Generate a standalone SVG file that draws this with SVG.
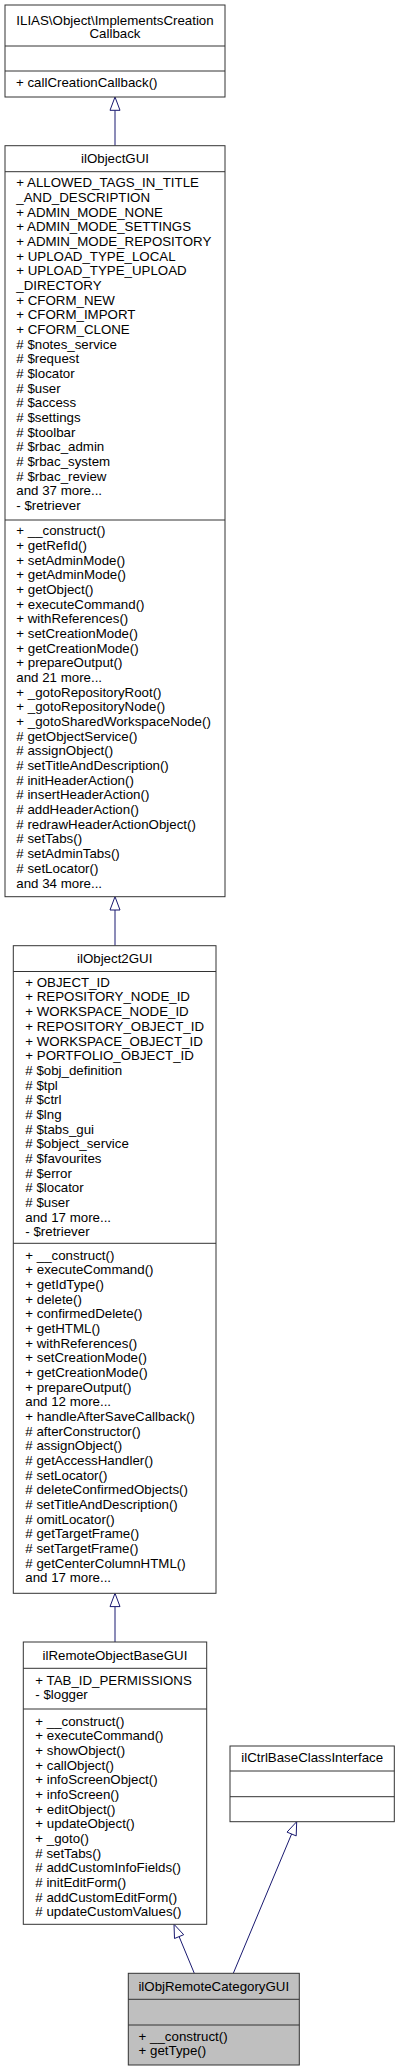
<svg xmlns="http://www.w3.org/2000/svg" width="400" height="2071" viewBox="0 0 400 2071">
<style>
text{font-family:"Liberation Sans",Arial,Helvetica,sans-serif;font-size:13.3px;fill:#000}
.c{text-anchor:middle}
.box{fill:#fff;stroke:#333;stroke-width:1}
.cur{fill:#bfbfbf;stroke:#333;stroke-width:1}
.div{stroke:#333;stroke-width:1}
.edge{stroke:#191970;stroke-width:1;fill:none}
.head{stroke:#191970;stroke-width:1;fill:#fff}
</style>
<rect width="400" height="2071" fill="#fff"/>
<g id="connectors">
<line class="edge" x1="115" y1="110.3" x2="115" y2="145.7"/>
<polygon class="head" points="115,97 110,110.3 120,110.3"/>
<line class="edge" x1="115" y1="910" x2="115" y2="945.7"/>
<polygon class="head" points="115,896.7 110,910 120,910"/>
<line class="edge" x1="115" y1="1606.6" x2="115" y2="1642"/>
<polygon class="head" points="115,1593.3 110,1606.6 120,1606.6"/>
<line class="edge" x1="179.1" y1="1936.6" x2="194.3" y2="1973.3"/>
<polygon class="head" points="174,1924.3 183.7,1934.7 174.5,1938.5"/>
<line class="edge" x1="291.6" y1="1834" x2="233.3" y2="1973.3"/>
<polygon class="head" points="296.7,1821.7 296.2,1835.9 287,1832.1"/>
</g>
<g id="ILIAS_Object_ImplementsCreationCallback">
<rect class="box" x="5" y="5" width="220" height="92"/>
<line class="div" x1="5" y1="46" x2="225" y2="46"/>
<line class="div" x1="5" y1="71" x2="225" y2="71"/>
<text class="c" x="115" y="24.5">ILIAS\Object\ImplementsCreation</text>
<text class="c" x="115" y="38.3">Callback</text>
<text x="16" y="87.3">+ callCreationCallback()</text>
</g>
<g id="ilObjectGUI">
<rect class="box" x="5" y="145.7" width="220" height="751"/>
<line class="div" x1="5" y1="171.7" x2="225" y2="171.7"/>
<line class="div" x1="5" y1="520" x2="225" y2="520"/>
<text class="c" x="115" y="163">ilObjectGUI</text>
<text x="16.3" y="187.2"><tspan x="16.3">+ ALLOWED_TAGS_IN_TITLE</tspan><tspan x="16.3" dy="14.68">_AND_DESCRIPTION</tspan><tspan x="16.3" dy="14.68">+ ADMIN_MODE_NONE</tspan><tspan x="16.3" dy="14.68">+ ADMIN_MODE_SETTINGS</tspan><tspan x="16.3" dy="14.68">+ ADMIN_MODE_REPOSITORY</tspan><tspan x="16.3" dy="14.68">+ UPLOAD_TYPE_LOCAL</tspan><tspan x="16.3" dy="14.68">+ UPLOAD_TYPE_UPLOAD</tspan><tspan x="16.3" dy="14.68">_DIRECTORY</tspan><tspan x="16.3" dy="14.68">+ CFORM_NEW</tspan><tspan x="16.3" dy="14.68">+ CFORM_IMPORT</tspan><tspan x="16.3" dy="14.68">+ CFORM_CLONE</tspan><tspan x="16.3" dy="14.68"># $notes_service</tspan><tspan x="16.3" dy="14.68"># $request</tspan><tspan x="16.3" dy="14.68"># $locator</tspan><tspan x="16.3" dy="14.68"># $user</tspan><tspan x="16.3" dy="14.68"># $access</tspan><tspan x="16.3" dy="14.68"># $settings</tspan><tspan x="16.3" dy="14.68"># $toolbar</tspan><tspan x="16.3" dy="14.68"># $rbac_admin</tspan><tspan x="16.3" dy="14.68"># $rbac_system</tspan><tspan x="16.3" dy="14.68"># $rbac_review</tspan><tspan x="16.3" dy="14.68">and 37 more...</tspan><tspan x="16.3" dy="14.68">- $retriever</tspan></text>
<text x="16.3" y="535.2"><tspan x="16.3">+ __construct()</tspan><tspan x="16.3" dy="14.68">+ getRefId()</tspan><tspan x="16.3" dy="14.68">+ setAdminMode()</tspan><tspan x="16.3" dy="14.68">+ getAdminMode()</tspan><tspan x="16.3" dy="14.68">+ getObject()</tspan><tspan x="16.3" dy="14.68">+ executeCommand()</tspan><tspan x="16.3" dy="14.68">+ withReferences()</tspan><tspan x="16.3" dy="14.68">+ setCreationMode()</tspan><tspan x="16.3" dy="14.68">+ getCreationMode()</tspan><tspan x="16.3" dy="14.68">+ prepareOutput()</tspan><tspan x="16.3" dy="14.68">and 21 more...</tspan><tspan x="16.3" dy="14.68">+ _gotoRepositoryRoot()</tspan><tspan x="16.3" dy="14.68">+ _gotoRepositoryNode()</tspan><tspan x="16.3" dy="14.68">+ _gotoSharedWorkspaceNode()</tspan><tspan x="16.3" dy="14.68"># getObjectService()</tspan><tspan x="16.3" dy="14.68"># assignObject()</tspan><tspan x="16.3" dy="14.68"># setTitleAndDescription()</tspan><tspan x="16.3" dy="14.68"># initHeaderAction()</tspan><tspan x="16.3" dy="14.68"># insertHeaderAction()</tspan><tspan x="16.3" dy="14.68"># addHeaderAction()</tspan><tspan x="16.3" dy="14.68"># redrawHeaderActionObject()</tspan><tspan x="16.3" dy="14.68"># setTabs()</tspan><tspan x="16.3" dy="14.68"># setAdminTabs()</tspan><tspan x="16.3" dy="14.68"># setLocator()</tspan><tspan x="16.3" dy="14.68">and 34 more...</tspan></text>
</g>
<g id="ilObject2GUI">
<rect class="box" x="13.3" y="945.7" width="202.7" height="647.6"/>
<line class="div" x1="13.3" y1="971.5" x2="216" y2="971.5"/>
<line class="div" x1="13.3" y1="1243.3" x2="216" y2="1243.3"/>
<text class="c" x="114.7" y="962.8">ilObject2GUI</text>
<text x="25.3" y="986.8"><tspan x="25.3">+ OBJECT_ID</tspan><tspan x="25.3" dy="14.68">+ REPOSITORY_NODE_ID</tspan><tspan x="25.3" dy="14.68">+ WORKSPACE_NODE_ID</tspan><tspan x="25.3" dy="14.68">+ REPOSITORY_OBJECT_ID</tspan><tspan x="25.3" dy="14.68">+ WORKSPACE_OBJECT_ID</tspan><tspan x="25.3" dy="14.68">+ PORTFOLIO_OBJECT_ID</tspan><tspan x="25.3" dy="14.68"># $obj_definition</tspan><tspan x="25.3" dy="14.68"># $tpl</tspan><tspan x="25.3" dy="14.68"># $ctrl</tspan><tspan x="25.3" dy="14.68"># $lng</tspan><tspan x="25.3" dy="14.68"># $tabs_gui</tspan><tspan x="25.3" dy="14.68"># $object_service</tspan><tspan x="25.3" dy="14.68"># $favourites</tspan><tspan x="25.3" dy="14.68"># $error</tspan><tspan x="25.3" dy="14.68"># $locator</tspan><tspan x="25.3" dy="14.68"># $user</tspan><tspan x="25.3" dy="14.68">and 17 more...</tspan><tspan x="25.3" dy="14.68">- $retriever</tspan></text>
<text x="25.3" y="1259.5"><tspan x="25.3">+ __construct()</tspan><tspan x="25.3" dy="14.68">+ executeCommand()</tspan><tspan x="25.3" dy="14.68">+ getIdType()</tspan><tspan x="25.3" dy="14.68">+ delete()</tspan><tspan x="25.3" dy="14.68">+ confirmedDelete()</tspan><tspan x="25.3" dy="14.68">+ getHTML()</tspan><tspan x="25.3" dy="14.68">+ withReferences()</tspan><tspan x="25.3" dy="14.68">+ setCreationMode()</tspan><tspan x="25.3" dy="14.68">+ getCreationMode()</tspan><tspan x="25.3" dy="14.68">+ prepareOutput()</tspan><tspan x="25.3" dy="14.68">and 12 more...</tspan><tspan x="25.3" dy="14.68">+ handleAfterSaveCallback()</tspan><tspan x="25.3" dy="14.68"># afterConstructor()</tspan><tspan x="25.3" dy="14.68"># assignObject()</tspan><tspan x="25.3" dy="14.68"># getAccessHandler()</tspan><tspan x="25.3" dy="14.68"># setLocator()</tspan><tspan x="25.3" dy="14.68"># deleteConfirmedObjects()</tspan><tspan x="25.3" dy="14.68"># setTitleAndDescription()</tspan><tspan x="25.3" dy="14.68"># omitLocator()</tspan><tspan x="25.3" dy="14.68"># getTargetFrame()</tspan><tspan x="25.3" dy="14.68"># setTargetFrame()</tspan><tspan x="25.3" dy="14.68"># getCenterColumnHTML()</tspan><tspan x="25.3" dy="14.68">and 17 more...</tspan></text>
</g>
<g id="ilRemoteObjectBaseGUI">
<rect class="box" x="23.3" y="1642" width="183.4" height="282.3"/>
<line class="div" x1="23.3" y1="1668.3" x2="206.7" y2="1668.3"/>
<line class="div" x1="23.3" y1="1709" x2="206.7" y2="1709"/>
<text class="c" x="115" y="1659.5">ilRemoteObjectBaseGUI</text>
<text x="35.3" y="1684.5"><tspan x="35.3">+ TAB_ID_PERMISSIONS</tspan><tspan x="35.3" dy="14.68">- $logger</tspan></text>
<text x="35.3" y="1725.5"><tspan x="35.3">+ __construct()</tspan><tspan x="35.3" dy="14.68">+ executeCommand()</tspan><tspan x="35.3" dy="14.68">+ showObject()</tspan><tspan x="35.3" dy="14.68">+ callObject()</tspan><tspan x="35.3" dy="14.68">+ infoScreenObject()</tspan><tspan x="35.3" dy="14.68">+ infoScreen()</tspan><tspan x="35.3" dy="14.68">+ editObject()</tspan><tspan x="35.3" dy="14.68">+ updateObject()</tspan><tspan x="35.3" dy="14.68">+ _goto()</tspan><tspan x="35.3" dy="14.68"># setTabs()</tspan><tspan x="35.3" dy="14.68"># addCustomInfoFields()</tspan><tspan x="35.3" dy="14.68"># initEditForm()</tspan><tspan x="35.3" dy="14.68"># addCustomEditForm()</tspan><tspan x="35.3" dy="14.68"># updateCustomValues()</tspan></text>
</g>
<g id="ilCtrlBaseClassInterface">
<rect class="box" x="230" y="1746" width="164.3" height="75.7"/>
<line class="div" x1="230" y1="1771" x2="394.3" y2="1771"/>
<line class="div" x1="230" y1="1796.7" x2="394.3" y2="1796.7"/>
<text class="c" x="312.2" y="1761.8">ilCtrlBaseClassInterface</text>
</g>
<g id="ilObjRemoteCategoryGUI">
<rect class="cur" x="128.3" y="1973.3" width="171" height="91.7"/>
<line class="div" x1="128.3" y1="1999.3" x2="299.3" y2="1999.3"/>
<line class="div" x1="128.3" y1="2025" x2="299.3" y2="2025"/>
<text class="c" x="213.8" y="1991.2">ilObjRemoteCategoryGUI</text>
<text x="138.6" y="2041.2"><tspan x="138.6">+ __construct()</tspan><tspan x="138.6" dy="14">+ getType()</tspan></text>
</g>
</svg>
